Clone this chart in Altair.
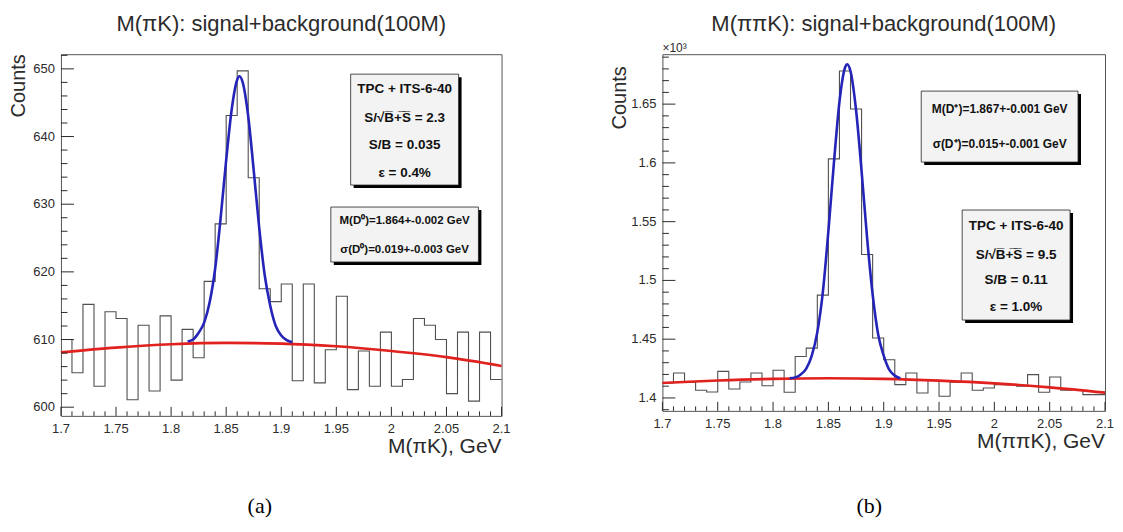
import altair as alt
import numpy as np
import pandas as pd

FONT = "Liberation Sans"
SERIF = "Liberation Serif"
TXT = "#2b2b2b"
HIST_C = "#505050"
RED = "#e0211d"
BLUE = "#2424b8"

# ---------------- shared x axis ----------------
X_DOMAIN = [1.70, 2.10]
BIN_LO = 1.70
BIN_W = 0.01
x_major = [1.70, 1.75, 1.80, 1.85, 1.90, 1.95, 2.00, 2.05, 2.10]
x_minor = [round(1.70 + 0.01 * i, 2) for i in range(41) if i % 5 != 0]

# ---------------- panel (a): M(piK) ----------------
a_title = "M(πK): signal+background(100M)"
a_xtitle = "M(πK), GeV"
a_ydomain = [598.72, 652.17]
a_ymajor = [600, 610, 620, 630, 640, 650]
a_yminor = [v for v in range(600, 653, 2) if v % 10]
a_counts = [610.0, 605.1, 615.2, 603.1, 614.1, 613.1, 601.1, 612.1, 602.4, 613.5,
            604.0, 611.5, 607.3, 618.6, 627.1, 643.1, 649.7, 633.9, 617.5, 615.6,
            618.2, 603.9, 618.2, 603.6, 608.5, 616.4, 602.6, 608.3, 603.1, 611.1,
            603.1, 604.1, 613.1, 612.1, 610.0, 602.0, 611.1, 600.9, 611.1, 604.1]
a_sig_x = [1.815, 1.82, 1.825, 1.83, 1.835, 1.84, 1.845, 1.85, 1.855, 1.86, 1.862,
           1.865, 1.87, 1.875, 1.88, 1.885, 1.89, 1.895, 1.9, 1.905, 1.91]
a_sig_y = [609.7, 610.0, 611.0, 612.5, 615.5, 620.5, 628.0, 636.5, 644.0, 648.4, 648.9,
           648.0, 643.0, 635.0, 626.5, 619.5, 615.0, 612.0, 610.6, 609.9, 609.6]
a_bkg_x = [1.70, 1.75, 1.80, 1.85, 1.90, 1.95, 2.00, 2.05, 2.10]
a_bkg_y = [608.1, 608.8, 609.3, 609.5, 609.4, 609.0, 608.3, 607.4, 606.1]
a_boxes = {"x1": [1.963, 1.945], "x2": [2.061, 2.079],
           "y1": [632.83, 621.46], "y2": [649.22, 629.58]}
a_text_lines = ["TPC + ITS-6-40", "S/√B̅+̅S̅ = 2.3", "S/B = 0.035", "ε = 0.4%",
                "M(D⁰)=1.864+-0.002 GeV", "σ(D⁰)=0.019+-0.003 GeV"]
a_text_x = [2.012, 2.012, 2.012, 2.012, 2.012, 2.012]
a_text_y = [647.0, 642.72, 638.73, 634.6, 627.5, 623.2]
a_text_fs = [13.5, 13.5, 13.5, 13.5, 11.5, 11.5]

# ---------------- panel (b): M(pipiK), in units of 10^3 ----------------
b_title = "M(ππK): signal+background(100M)"
b_xtitle = "M(ππK), GeV"
b_ydomain = [1.389, 1.6925]
b_ymajor = [1.40, 1.45, 1.50, 1.55, 1.60, 1.65]
b_yminor = [round(1.39 + 0.01 * i, 2) for i in range(31)
            if round((1.39 + 0.01 * i) * 100) % 5 != 0]
b_counts = [1.4127, 1.4212, 1.4133, 1.4065, 1.4051, 1.4226, 1.4076, 1.4136, 1.4212, 1.4104,
            1.4235, 1.4048, 1.4353, 1.4424, 1.4875, 1.6034, 1.6782, 1.6458, 1.5220, 1.4510,
            1.4325, 1.4113, 1.4212, 1.4042, 1.4150, 1.4014, 1.4133, 1.4212, 1.4065, 1.4085,
            1.4113, 1.4110, 1.4100, 1.4198, 1.4048, 1.4178, 1.4065, 1.4070, 1.4028, 1.4028]
b_sig_x = [1.815, 1.82, 1.825, 1.83, 1.835, 1.84, 1.845, 1.85, 1.855, 1.86, 1.865, 1.867,
           1.87, 1.875, 1.88, 1.885, 1.89, 1.895, 1.9, 1.905, 1.91, 1.915]
b_sig_y = [1.4168, 1.4175, 1.4200, 1.4250, 1.4360, 1.4560, 1.4900, 1.5420, 1.6000, 1.6520,
           1.6810, 1.6840, 1.6780, 1.6450, 1.5930, 1.5360, 1.4880, 1.4540, 1.4360, 1.4240,
           1.4190, 1.4168]
b_bkg_x = [1.70, 1.75, 1.80, 1.85, 1.90, 1.95, 2.00, 2.05, 2.10]
b_bkg_y = [1.4127, 1.4148, 1.4162, 1.4167, 1.4162, 1.4147, 1.4124, 1.4090, 1.4045]
b_boxes = {"x1": [1.9339, 1.9709], "x2": [2.0756, 2.0684],
           "y1": [1.6007, 1.4663], "y2": [1.6611, 1.5599]}
b_text_lines = ["M(D⁺)=1.867+-0.001 GeV", "σ(D⁺)=0.015+-0.001 GeV",
                "TPC + ITS-6-40", "S/√B̅+̅S̅ = 9.5", "S/B = 0.11", "ε = 1.0%"]
b_text_x = [2.0048, 2.0048, 2.0196, 2.0196, 2.0196, 2.0196]
b_text_y = [1.6457, 1.6160, 1.5463, 1.5216, 1.5003, 1.4774]
b_text_fs = [12, 12, 13.5, 13.5, 13.5, 13.5]


def label_layer(text, x, y, size, **kw):
    return alt.Chart(pd.DataFrame({"t": [text]})).mark_text(
        fontSize=size, color=TXT, **kw).encode(text="t:N", x=alt.value(x), y=alt.value(y))


def panel(counts, sx, sy, rx, ry, ydom, ymaj, ymin, yfmt, W, H, title, xtitle,
          ytitle_y, boxes, tl, tx, ty, tfs, tag, tag_x, shadow_d, extra_label=None):
    xs = alt.Scale(domain=X_DOMAIN, nice=False, zero=False)
    ys = alt.Scale(domain=ydom, nice=False, zero=False)
    X = lambda f: alt.X(f, scale=xs, axis=None)
    Y = lambda f: alt.Y(f, scale=ys, axis=None)

    edges = [round(BIN_LO + BIN_W * i, 2) for i in range(len(counts) + 1)]
    hist_df = pd.DataFrame({"x": edges, "y": list(counts) + [counts[-1]]})

    hist = alt.Chart(hist_df).mark_line(interpolate="step-after", color=HIST_C,
                                        strokeWidth=1.1).encode(x=X("x:Q"), y=Y("y:Q"))
    bkg = alt.Chart(pd.DataFrame({"x": rx, "y": ry})).mark_line(
        interpolate="monotone", color=RED, strokeWidth=2.6).encode(x=X("x:Q"), y=Y("y:Q"))
    sig = alt.Chart(pd.DataFrame({"x": sx, "y": sy})).mark_line(
        interpolate="monotone", color=BLUE, strokeWidth=2.6).encode(x=X("x:Q"), y=Y("y:Q"))

    box_df = pd.DataFrame(boxes)
    dx, dy = shadow_d
    sh_df = box_df.assign(x1=box_df.x1 + dx, x2=box_df.x2 + dx,
                          y1=box_df.y1 - dy, y2=box_df.y2 - dy)
    shadow = alt.Chart(sh_df).mark_rect(color="#000000").encode(
        x=X("x1:Q"), x2="x2:Q", y=Y("y1:Q"), y2="y2:Q")
    box = alt.Chart(box_df).mark_rect(fill="#f3f3f3", stroke="#222222",
                                      strokeWidth=0.8).encode(
        x=X("x1:Q"), x2="x2:Q", y=Y("y1:Q"), y2="y2:Q")
    txt = alt.Chart(pd.DataFrame({"x": tx, "y": ty, "t": tl, "fs": tfs})).mark_text(
        font=FONT, fontWeight="bold", color="#111111", align="center",
        baseline="middle").encode(
        x=X("x:Q"), y=Y("y:Q"), text="t:N", size=alt.Size("fs:Q", scale=None))

    # inward ticks (ROOT style)
    ymaj_t = alt.Chart(pd.DataFrame({"y": ymaj})).mark_rule(color=TXT, strokeWidth=1).encode(
        y=Y("y:Q"), x=alt.value(0), x2=alt.value(13))
    ymin_t = alt.Chart(pd.DataFrame({"y": ymin})).mark_rule(color=TXT, strokeWidth=1).encode(
        y=Y("y:Q"), x=alt.value(0), x2=alt.value(6.5))
    xmaj_t = alt.Chart(pd.DataFrame({"x": x_major})).mark_rule(color=TXT, strokeWidth=1).encode(
        x=X("x:Q"), y=alt.value(H), y2=alt.value(H - 9))
    xmin_t = alt.Chart(pd.DataFrame({"x": x_minor})).mark_rule(color=TXT, strokeWidth=1).encode(
        x=X("x:Q"), y=alt.value(H), y2=alt.value(H - 4.5))

    # tick labels
    ylab = alt.Chart(pd.DataFrame({"y": ymaj})).mark_text(
        font=FONT, fontSize=13, color=TXT, align="right", baseline="middle").encode(
        y=Y("y:Q"), x=alt.value(-6), text=alt.Text("y:Q", format=yfmt))
    xlab = alt.Chart(pd.DataFrame({"x": x_major})).mark_text(
        font=FONT, fontSize=13, color=TXT, align="center", baseline="top").encode(
        x=X("x:Q"), y=alt.value(H + 7), text=alt.Text("x:Q", format=".2~f"))

    ttl = label_layer(title, W / 2, -23, 22, font=FONT, align="center", baseline="alphabetic")
    xttl = label_layer(xtitle, W, H + 37, 21, font=FONT, align="right", baseline="alphabetic")
    yttl = label_layer("Counts", -36, ytitle_y, 20, font=FONT, align="right",
                       baseline="alphabetic", angle=270)
    tagc = alt.Chart(pd.DataFrame({"t": [tag]})).mark_text(
        font=SERIF, fontSize=22, color="#000000", align="center", baseline="middle").encode(
        text="t:N", x=alt.value(tag_x), y=alt.value(452))

    layers = [hist, bkg, sig, shadow, box, txt, ymaj_t, ymin_t, xmaj_t, xmin_t,
              ylab, xlab, ttl, xttl, yttl, tagc]
    if extra_label:
        layers.append(label_layer(extra_label, 0, -2, 12, font=FONT, align="left",
                                  baseline="alphabetic"))

    return alt.layer(*layers).properties(width=W, height=H)


left = panel(a_counts, a_sig_x, a_sig_y, a_bkg_x, a_bkg_y, a_ydomain, a_ymajor, a_yminor,
             "d", 441, 362, a_title, a_xtitle, 0, a_boxes, a_text_lines, a_text_x,
             a_text_y, a_text_fs, "(a)", 199, (0.0027, 0.44))
right = panel(b_counts, b_sig_x, b_sig_y, b_bkg_x, b_bkg_y, b_ydomain, b_ymajor, b_yminor,
              ".2~f", 443, 357, b_title, b_xtitle, 12, b_boxes, b_text_lines, b_text_x,
              b_text_y, b_text_fs, "(b)", 207, (0.0027, 0.00255), extra_label="×10³")

chart = alt.hconcat(left, right, spacing=161, bounds="flush").properties(
    padding={"left": 0, "top": 4, "right": 0, "bottom": 0}, background="white"
).configure_view(stroke="#555555", strokeWidth=1)

chart.save("out.html", embed_options={"renderer": "svg", "actions": False})
